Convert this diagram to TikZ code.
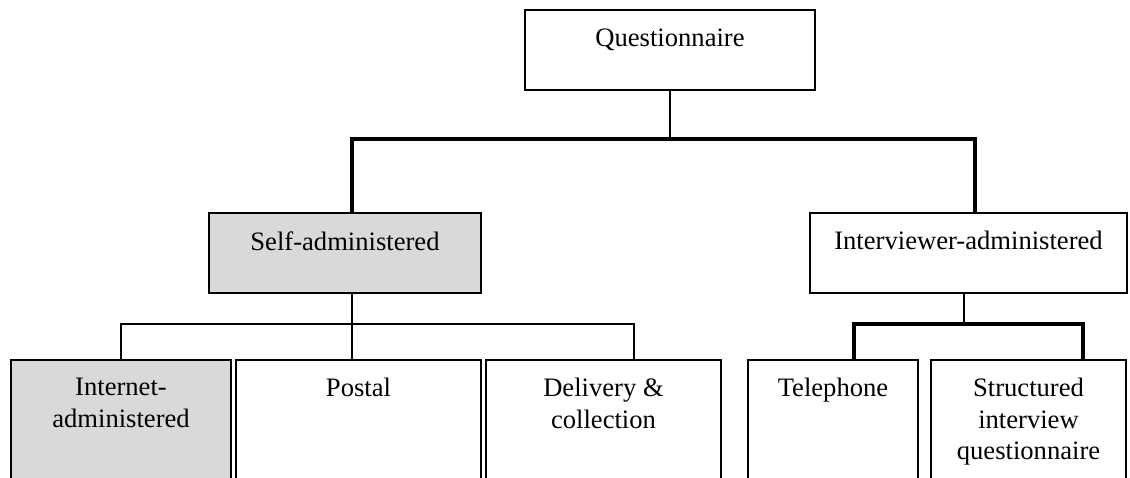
\documentclass[tikz,border=0pt]{standalone}
\usepackage{fontspec}
\setmainfont{Liberation Serif}
\usetikzlibrary{positioning,fit}
\definecolor{boxgray}{RGB}{217,217,217}

\begin{document}
\begin{tikzpicture}
  [
    x = 0.451pt, y = -0.451pt,
    box/.style = {draw, line width=0.7pt, inner sep=0pt},
    shaded/.style = {box, fill=boxgray},
    caption/.style = {anchor=north, inner sep=0pt, align=center,
                      font=\fontsize{12}{14.2}\selectfont},
    bar/.style = {line width=1.4pt},
    stem/.style = {line width=0.9pt},
  ]

  \useasboundingbox (0,0) rectangle (1130,477);
  \clip (0,0) rectangle (1130,477);

  % boxes
  \node[box,    fit={(525,10) (815,90)}]    (quest) {};
  \node[shaded, fit={(209,213) (481,293)}]  (self) {};
  \node[box,    fit={(810,213) (1127,293)}] (inter) {};

  \node[shaded, fit={(11,360) (231,490)}]   (internet) {};
  \node[box,    fit={(236,360) (481,490)}]  (postal) {};
  \node[box,    fit={(486,360) (721,490)}]  (delivery) {};
  \node[box,    fit={(748,360) (918,490)}]  (phone) {};
  \node[box,    fit={(931,360) (1126,490)}] (structured) {};

  % captions
  \node[caption, below=8.5pt of quest.north]      (questtext) {Questionnaire};
  \node[caption, below=8.5pt of self.north]       (selftext) {Self-administered};
  \node[caption, below=8.5pt of inter.north]      (intertext) {Interviewer-administered};
  \node[caption, below=8.5pt of internet.north]   (internettext) {Internet-\\administered};
  \node[caption, below=8.5pt of postal.north]     (postaltext) {Postal};
  \node[caption, below=8.5pt of delivery.north]   (deliverytext) {Delivery \&\\collection};
  \node[caption, below=8.5pt of phone.north]      (phonetext) {Telephone};
  \node[caption, below=8.5pt of structured.north] (structuredtext) {Structured\\interview\\questionnaire};

  % connectors
  \coordinate (topbar)   at (0,139);
  \coordinate (selfbar)  at (0,324);
  \coordinate (interbar) at (0,324);

  \draw[stem] (quest.south) -- (quest.south |- topbar);
  \draw[bar] (self.north -| 352,0) |- (topbar -| 975,0) -- (inter.north -| 975,0);

  \draw[stem] (self.south -| 352,0) -- (postal.north -| 352,0);
  \draw[stem] (internet.north) |- (selfbar -| 634,0) -- (delivery.north -| 634,0);

  \draw[stem] (inter.south -| 964,0) -- (interbar -| 964,0);
  \draw[bar] (phone.north -| 854,0) |- (interbar -| 1083,0) -- (structured.north -| 1083,0);
\end{tikzpicture}
\end{document}
